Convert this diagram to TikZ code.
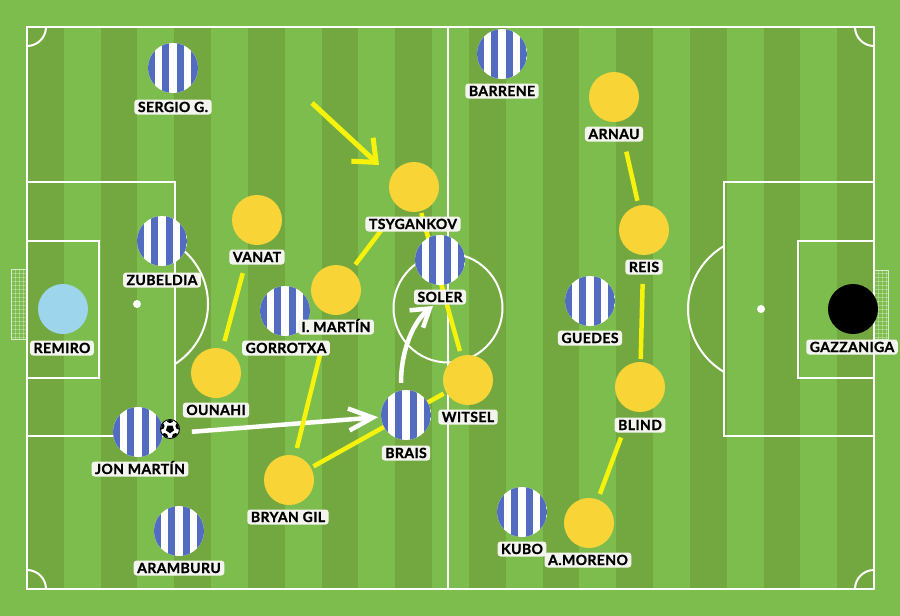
\documentclass[tikz,border=0pt]{standalone}
\usepackage{fontspec}
\setmainfont{Lato}[LetterSpace=3,BoldFeatures={FakeBold=1.2}]
\usetikzlibrary{arrows.meta,shapes.geometric}
\definecolor{grassL}{RGB}{125,189,78}
\definecolor{grassD}{RGB}{115,168,64}
\definecolor{kitblue}{RGB}{82,108,192}
\definecolor{kityel}{RGB}{248,212,55}
\definecolor{lineyel}{RGB}{246,242,12}
\definecolor{keeperblue}{RGB}{157,214,236}
\definecolor{labelbg}{RGB}{244,244,238}
\pgfdeclarelayer{bg}
\pgfdeclarelayer{mid}
\pgfsetlayers{bg,mid,main}
\begin{document}
\begin{tikzpicture}[x=1pt,y=-1pt,
  pline/.style={white, line width=2pt},
  home/.style={circle, minimum size=50pt, inner sep=0pt, fill=white,
    path picture={\foreach \i in {0,2,4,6}{\fill[kitblue] ([xshift=\i*7.143pt]path picture bounding box.north west) rectangle ++(7.143pt,-50pt);}}},
  away/.style={circle, minimum size=50pt, inner sep=0pt, fill=kityel},
  keeperA/.style={circle, minimum size=50pt, inner sep=0pt, fill=keeperblue},
  keeperB/.style={circle, minimum size=50pt, inner sep=0pt, fill=black},
  tlabel/.style={fill=labelbg, rounded corners=3pt, inner xsep=3.5pt, inner ysep=2.5pt,
    text height=10pt, text depth=0pt, font=\bfseries\fontsize{14}{15}\selectfont, text=black},
  ylink/.style={lineyel, line width=4.5pt},
  warrow/.style={white, line width=4.5pt},
  ballstyle/.style={circle, fill=white, draw=black, line width=0.9pt, minimum size=19pt, inner sep=0pt},
]
\useasboundingbox (0,0) rectangle (900,616);
\begin{pgfonlayer}{bg}
% grass
\fill[grassL] (0,0) rectangle (900,616);
\foreach \i in {0,...,11} \fill[grassD] ({27+2*\i*36.826},27) rectangle ++(36.826,562);
% pitch lines
\draw[pline] (27,27) rectangle (874,589);
\draw[pline] (448,27) -- (448,589);
\draw[pline] (448,308) circle[radius=54.5];
\draw[pline] (27,182) rectangle (175,436);
\draw[pline] (27,241) rectangle (99,378);
\draw[pline] (724,182) rectangle (874,436);
\draw[pline] (798,241) rectangle (874,378);
\fill[white] (137,304) circle[radius=4];
\fill[white] (761,309) circle[radius=4];
\begin{scope}
  \clip (175,0) rectangle (448,616);
  \draw[pline] (137,304) circle[radius=71];
\end{scope}
\begin{scope}
  \clip (448,0) rectangle (724,616);
  \draw[pline] (761,309) circle[radius=73];
\end{scope}
\begin{scope}
  \clip (27,27) rectangle (874,589);
  \draw[pline] (27,27) circle[radius=19];
  \draw[pline] (874,27) circle[radius=19];
  \draw[pline] (27,589) circle[radius=19];
  \draw[pline] (874,589) circle[radius=19];
\end{scope}
% nets
\foreach \y in {273,277,...,337} {
  \draw[white, opacity=.3, line width=.5pt] (11,\y) -- (27,\y);
  \draw[white, opacity=.3, line width=.5pt] (874,\y) -- (888,\y);
}
\foreach \x in {15,19,23} \draw[white, opacity=.3, line width=.5pt] (\x,269) -- (\x,339);
\foreach \x in {878,882,886} \draw[white, opacity=.3, line width=.5pt] (\x,270) -- (\x,339);
\draw[white, opacity=.7, line width=1pt] (27,269) -- (11.5,269) -- (11.5,339) -- (27,339);
\draw[white, opacity=.7, line width=1pt] (874,270) -- (888,270) -- (888,339) -- (874,339);
\end{pgfonlayer}

% players
\node[home] (sergio) at (173,68) {};
\node[home] (zubeldia) at (162,241) {};
\node[home] (gorrotxa) at (285,311) {};
\node[home] (jon) at (138,432) {};
\node[home] (aramburu) at (179,531) {};
\node[home] (brais) at (406,415) {};
\node[home] (soler) at (440,260) {};
\node[home] (barrene) at (502,54) {};
\node[home] (guedes) at (590,301) {};
\node[home] (kubo) at (522,512) {};
\node[keeperA] (remiro) at (63,309) {};
\node[keeperB] (gazzaniga) at (853,309) {};
\node[away] (vanat) at (257,220) {};
\node[away] (ounahi) at (216,373) {};
\node[away] (tsyg) at (414,187) {};
\node[away] (imartin) at (336,290) {};
\node[away] (witsel) at (468,380) {};
\node[away] (bryan) at (289,480) {};
\node[away] (arnau) at (614,97) {};
\node[away] (reis) at (644,230) {};
\node[away] (blind) at (640,387) {};
\node[away] (amoreno) at (589,523) {};

% free ends of the yellow run arrow
\coordinate (runstart) at (312,103);
\coordinate (runend) at (379,165);

% connectors, behind the players
\begin{pgfonlayer}{mid}
\draw[warrow, shorten <=54pt, shorten >=28pt, -{Straight Barb[length=24pt,width=22pt]}]
  ([yshift=-4pt]jon.center) -- (brais.center);
\draw[warrow, -{Straight Barb[length=17pt,width=22pt]}]
  ([shift={(-5,-7)}]brais.north) .. controls +(0,-35) and +(-18,14) .. ([shift={(-7,46)}]soler.center);
\draw[ylink, shorten <=55pt, shorten >=33pt] (vanat.center) -- (ounahi.center);
\draw[ylink, shorten <=54pt, shorten >=32pt] (tsyg.center) -- (imartin.center);
\draw[ylink, shorten <=27pt, shorten >=30pt] (tsyg.center) -- (witsel.center);
\draw[ylink, shorten <=33pt, shorten >=60pt] (bryan.center) -- (imartin.center);
\draw[ylink, shorten <=28pt, shorten >=28pt] (bryan.center) -- (witsel.center);
\draw[ylink, shorten <=56pt, shorten >=30pt] (arnau.center) -- (reis.center);
\draw[ylink, shorten <=54pt, shorten >=28pt] (reis.center) -- (blind.center);
\draw[ylink, shorten <=54pt, shorten >=31pt] (blind.center) -- (amoreno.center);
\draw[ylink, line width=5pt, -{Straight Barb[length=19pt,width=32pt]}] (runstart) -- (runend);
\end{pgfonlayer}

% ball
\node[ballstyle] (ball) at (170,429) {};
\begin{scope}
  \clip (ball.center) circle[radius=9pt];
  \foreach \a in {18,90,162,234,306}
    \fill[black] (ball.center) ++(\a:9.5pt) circle[radius=3.6pt];
\end{scope}
\node[regular polygon, regular polygon sides=5, fill=black, minimum size=8.5pt, inner sep=0pt, shape border rotate=180] at (ball.center) {};

% labels
\node[tlabel] (l-sergio) at (173,107) {SERGIO G.};
\node[tlabel] (l-zubeldia) at (162,280) {ZUBELDIA};
\node[tlabel] (l-gorrotxa) at (286,348) {GORROTXA};
\node[tlabel] (l-jon) at (140,469) {JON MARTÍN};
\node[tlabel] (l-aramburu) at (179,568) {ARAMBURU};
\node[tlabel] (l-brais) at (406,453) {BRAIS};
\node[tlabel] (l-soler) at (440,297) {SOLER};
\node[tlabel] (l-barrene) at (502,91) {BARRENE};
\node[tlabel] (l-guedes) at (590,338) {GUEDES};
\node[tlabel] (l-kubo) at (522,549) {KUBO};
\node[tlabel] (l-remiro) at (62,348) {REMIRO};
\node[tlabel] (l-gazzaniga) at (852,347) {GAZZANIGA};
\node[tlabel] (l-vanat) at (257,257) {VANAT};
\node[tlabel] (l-ounahi) at (216,410) {OUNAHI};
\node[tlabel] (l-tsyg) at (413,224) {TSYGANKOV};
\node[tlabel] (l-imartin) at (336,327) {I. MARTÍN};
\node[tlabel] (l-witsel) at (468,417) {WITSEL};
\node[tlabel] (l-bryan) at (288,517) {BRYAN GIL};
\node[tlabel] (l-arnau) at (614,134) {ARNAU};
\node[tlabel] (l-reis) at (644,267) {REIS};
\node[tlabel] (l-blind) at (640,425) {BLIND};
\node[tlabel] (l-amoreno) at (588,560) {A.MORENO};
\end{tikzpicture}
\end{document}
